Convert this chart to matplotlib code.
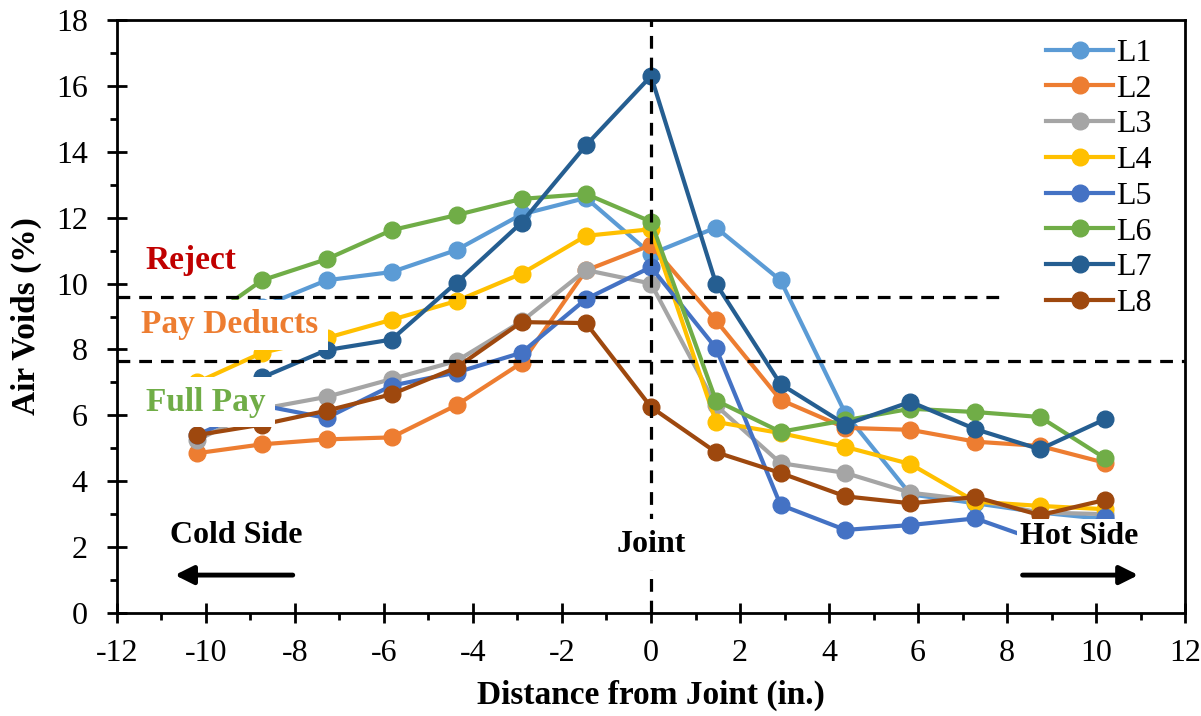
import matplotlib
matplotlib.use('Agg')
from matplotlib import pyplot as plt
from matplotlib.ticker import MultipleLocator

plt.rcParams['font.family'] = ['Liberation Serif', 'DejaVu Serif']
plt.rcParams['axes.unicode_minus'] = False

# distance from joint (in.)
dist = [-10.2, -8.74, -7.29, -5.83, -4.37, -2.91, -1.46, 0,
        1.46, 2.91, 4.37, 5.83, 7.29, 8.74, 10.2]

L1 = [8.6, 9.3, 10.1, 10.35, 11.02, 12.1, 12.6, 10.9, 11.7, 10.1, 6.05, 3.6, 3.33, 3.05, 2.85]
L2 = [4.85, 5.12, 5.27, 5.33, 6.31, 7.59, 10.4, 11.17, 8.88, 6.47, 5.62, 5.56, 5.2, 5.07, 4.56]
L3 = [5.25, 6.2, 6.56, 7.1, 7.65, 8.85, 10.41, 10.0, 6.3, 4.55, 4.25, 3.65, 3.42, 3.05, 3.0]
L4 = [7.0, 7.9, 8.35, 8.9, 9.47, 10.3, 11.45, 11.65, 5.8, 5.46, 5.04, 4.52, 3.38, 3.25, 3.15]
L5 = [5.4, 6.3, 5.92, 6.9, 7.3, 7.9, 9.53, 10.5, 8.04, 3.28, 2.52, 2.67, 2.87, 2.18, 2.9]
L6 = [8.7, 10.1, 10.74, 11.62, 12.08, 12.57, 12.72, 11.88, 6.45, 5.5, 5.85, 6.2, 6.1, 5.95, 4.7]
L7 = [6.5, 7.15, 7.98, 8.3, 10.03, 11.85, 14.2, 16.3, 10.0, 6.95, 5.72, 6.41, 5.58, 4.97, 5.88]
L8 = [5.4, 5.72, 6.14, 6.64, 7.45, 8.83, 8.8, 6.25, 4.88, 4.25, 3.54, 3.33, 3.52, 2.97, 3.43]

series = [L1, L2, L3, L4, L5, L6, L7, L8]
names = ['L1', 'L2', 'L3', 'L4', 'L5', 'L6', 'L7', 'L8']
colors = ['#5B9BD5', '#ED7D31', '#A5A5A5', '#FFC000',
          '#4472C4', '#70AD47', '#255E91', '#9E480E']

reject_limit = 9.6
full_pay_limit = 7.65

fig = plt.figure(figsize=(12.01, 7.16), dpi=100)
ax = fig.add_axes([0.0974, 0.1439, 0.8893, 0.8281])

for vals, name, c in zip(series, names, colors):
    ax.plot(dist, vals, color=c, lw=3, marker='o', ms=12, label=name, zorder=3)

# limits
dash = dict(color='black', lw=2.3, ls=(0, (4, 2.8)), zorder=4)
ax.plot([-12, 8], [reject_limit, reject_limit], **dash)
ax.plot([-12, 12], [full_pay_limit, full_pay_limit], **dash)
ax.plot([0, 0], [0, 18], **dash)

box = dict(facecolor='white', edgecolor='none', pad=4)
ax.text(-11.35, 10.7, 'Reject', color='#C00000', fontsize=24, fontweight='bold',
        va='center', ha='left', bbox=box, zorder=6)
ax.text(-11.45, 8.75, 'Pay Deducts', color='#ED7D31', fontsize=24, fontweight='bold',
        va='center', ha='left', bbox=dict(facecolor='white', edgecolor='none', pad=7), zorder=6)
ax.text(-11.35, 6.4, 'Full Pay', color='#70AD47', fontsize=24, fontweight='bold',
        va='center', ha='left', bbox=dict(facecolor='white', edgecolor='none', pad=7), zorder=6)
ax.text(-10.8, 2.35, 'Cold Side', fontsize=23, fontweight='bold',
        va='center', ha='left', bbox=box, zorder=6)
ax.text(8.3, 2.32, 'Hot Side', fontsize=23, fontweight='bold',
        va='center', ha='left', bbox=dict(facecolor='white', edgecolor='none', pad=2), zorder=6)
ax.text(0, 2.08, 'Joint', fontsize=23, fontweight='bold',
        va='center', ha='center', bbox=dict(facecolor='white', edgecolor='none', pad=8), zorder=6)

arrow = dict(arrowstyle='-|>,head_length=1.1,head_width=0.55', color='black', lw=3.5,
             shrinkA=0, shrinkB=0)
ax.annotate('', xy=(-10.7, 1.15), xytext=(-8.05, 1.15), arrowprops=arrow, zorder=6)
ax.annotate('', xy=(10.95, 1.15), xytext=(8.35, 1.15), arrowprops=arrow, zorder=6)

ax.set_xlim(-12, 12)
ax.set_ylim(0, 18)
ax.xaxis.set_major_locator(MultipleLocator(2))
ax.xaxis.set_minor_locator(MultipleLocator(1))
ax.yaxis.set_major_locator(MultipleLocator(2))
ax.yaxis.set_minor_locator(MultipleLocator(1))
ax.tick_params(which='major', direction='inout', length=14, width=2, labelsize=23)
ax.tick_params(axis='x', which='major', pad=12)
ax.tick_params(axis='y', which='major', pad=14)
ax.tick_params(which='minor', direction='out', length=5, width=2)
for s in ax.spines.values():
    s.set_linewidth(2)

ax.set_xlabel('Distance from Joint (in.)', fontsize=24, fontweight='bold', labelpad=8)
ax.set_ylabel('Air Voids (%)', fontsize=24, fontweight='bold', labelpad=10)

leg = ax.legend(loc='upper right', bbox_to_anchor=(0.984, 0.996), fontsize=23,
                frameon=True, framealpha=1, edgecolor='none', fancybox=False,
                handlelength=2.1, handletextpad=0.1, labelspacing=0.2,
                borderpad=0.4, borderaxespad=0.1)
leg.set_zorder(7)

fig.savefig('out.png', dpi=100)
